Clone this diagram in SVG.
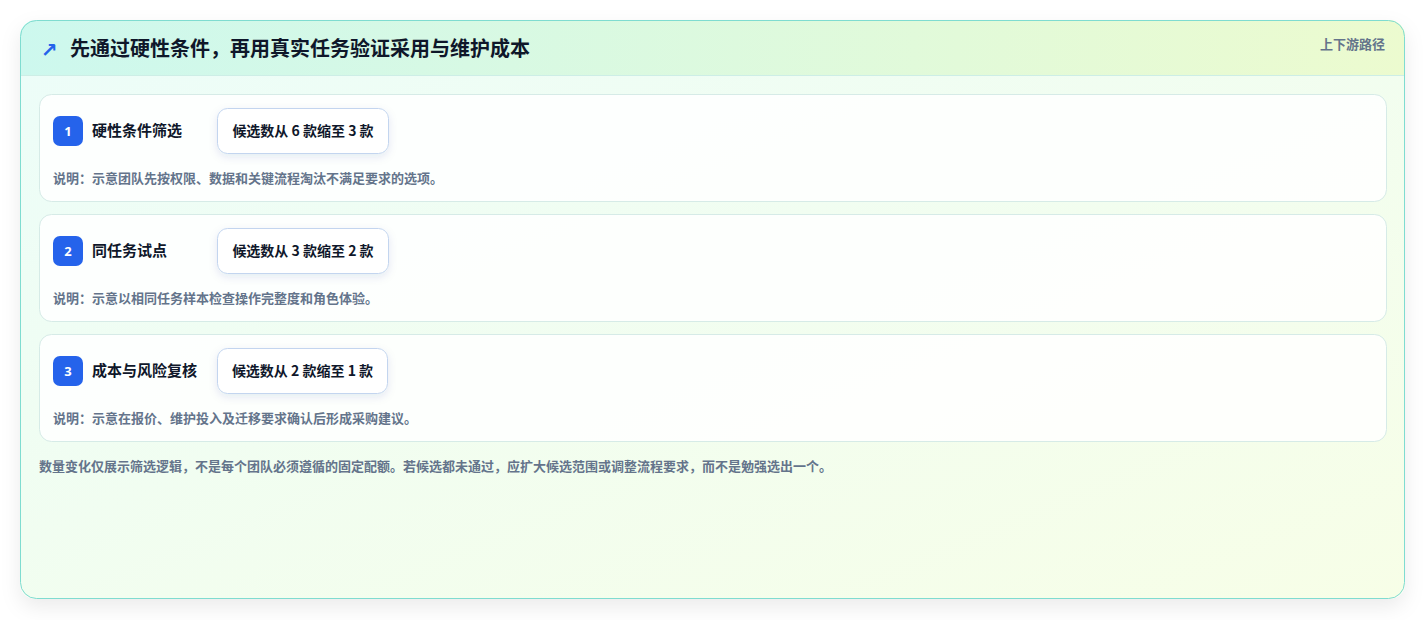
<svg xmlns="http://www.w3.org/2000/svg" width="1426" height="620" viewBox="0 0 1426 620">
<defs>
<linearGradient id="bg" x1="0" y1="0" x2="1" y2="1">
<stop offset="0" stop-color="#ecfdf9"/>
<stop offset="1" stop-color="#f7fee7"/>
</linearGradient>
<linearGradient id="hd" x1="0" y1="0" x2="1" y2="0">
<stop offset="0" stop-color="#cdf8ee"/>
<stop offset="1" stop-color="#ecfbcf"/>
</linearGradient>
<clipPath id="cardclip"><rect x="20" y="20" width="1385" height="579" rx="16"/></clipPath>
<filter id="sh" x="-10%" y="-10%" width="120%" height="125%">
<feDropShadow dx="0" dy="8" stdDeviation="10" flood-color="#0f172a" flood-opacity="0.08"/>
</filter>
<filter id="psh" x="-20%" y="-30%" width="140%" height="170%">
<feDropShadow dx="0" dy="3" stdDeviation="4" flood-color="#1e3a8a" flood-opacity="0.10"/>
</filter>
</defs>
<style>
.row{fill:#ffffff;fill-opacity:0.85;stroke:#d6ebe7;stroke-width:1}
.badge{fill:#2563eb}
.num{font-family:"Noto Sans","Noto Sans CJK SC",sans-serif;font-size:13px;font-weight:700;fill:#ffffff}
.lbl{font-family:"Noto Sans CJK SC",sans-serif;font-size:15px;font-weight:700;fill:#0f172a}
.pill{fill:#ffffff;stroke:#c3d5ef;stroke-width:1}
.ptx{font-family:"Noto Sans CJK SC",sans-serif;font-size:14px;font-weight:700;fill:#0f172a}
.desc{font-family:"Noto Sans CJK SC",sans-serif;font-size:13px;font-weight:700;fill:#64748b}
</style>
<rect width="1426" height="620" fill="#ffffff"/>
<g id="card">
<rect x="20" y="20" width="1385" height="579" rx="16" fill="url(#bg)" filter="url(#sh)"/>
<g clip-path="url(#cardclip)">
<rect x="20" y="20" width="1385" height="55" fill="url(#hd)"/>
<line x1="20" y1="75.5" x2="1405" y2="75.5" stroke="#cdeee6" stroke-width="1"/>
</g>
<rect x="20.5" y="20.5" width="1384" height="578" rx="16" fill="none" stroke="#7fdcd0" stroke-width="1"/>
</g>
<g id="header">
<text x="41" y="57" font-family="DejaVu Sans,sans-serif" font-size="20" font-weight="700" fill="#2563eb">↗</text>
<text x="70" y="56" font-family="Noto Sans CJK SC,sans-serif" font-size="20" font-weight="700" fill="#0f172a">先通过硬性条件，再用真实任务验证采用与维护成本</text>
<text x="1385" y="49" text-anchor="end" font-family="Noto Sans CJK SC,sans-serif" font-size="13" font-weight="700" fill="#64748b">上下游路径</text>
</g>
<g id="step1">
<rect class="row" x="39.5" y="94.5" width="1347" height="107" rx="12"/>
<rect class="badge" x="53" y="116" width="30" height="30" rx="7"/>
<text class="num" x="68" y="136" text-anchor="middle">1</text>
<text class="lbl" x="92" y="136">硬性条件筛选</text>
<rect class="pill" x="217.5" y="108.5" width="171" height="45" rx="10" filter="url(#psh)"/>
<text class="ptx" x="303" y="136" text-anchor="middle">候选数从 6 款缩至 3 款</text>
<text class="desc" x="53" y="183">说明：示意团队先按权限、数据和关键流程淘汰不满足要求的选项。</text>
</g>
<g id="step2">
<rect class="row" x="39.5" y="214.5" width="1347" height="107" rx="12"/>
<rect class="badge" x="53" y="236" width="30" height="30" rx="7"/>
<text class="num" x="68" y="256" text-anchor="middle">2</text>
<text class="lbl" x="92" y="256">同任务试点</text>
<rect class="pill" x="217.5" y="228.5" width="171" height="45" rx="10" filter="url(#psh)"/>
<text class="ptx" x="303" y="256" text-anchor="middle">候选数从 3 款缩至 2 款</text>
<text class="desc" x="53" y="303">说明：示意以相同任务样本检查操作完整度和角色体验。</text>
</g>
<g id="step3">
<rect class="row" x="39.5" y="334.5" width="1347" height="107" rx="12"/>
<rect class="badge" x="53" y="356" width="30" height="30" rx="7"/>
<text class="num" x="68" y="376" text-anchor="middle">3</text>
<text class="lbl" x="92" y="376">成本与风险复核</text>
<rect class="pill" x="217.5" y="348.5" width="170" height="45" rx="10" filter="url(#psh)"/>
<text class="ptx" x="302.5" y="376" text-anchor="middle">候选数从 2 款缩至 1 款</text>
<text class="desc" x="53" y="423">说明：示意在报价、维护投入及迁移要求确认后形成采购建议。</text>
</g>
<g id="connectors"></g>
<g id="footer">
<text class="desc" x="39" y="471">数量变化仅展示筛选逻辑，不是每个团队必须遵循的固定配额。若候选都未通过，应扩大候选范围或调整流程要求，而不是勉强选出一个。</text>
</g>
</svg>
